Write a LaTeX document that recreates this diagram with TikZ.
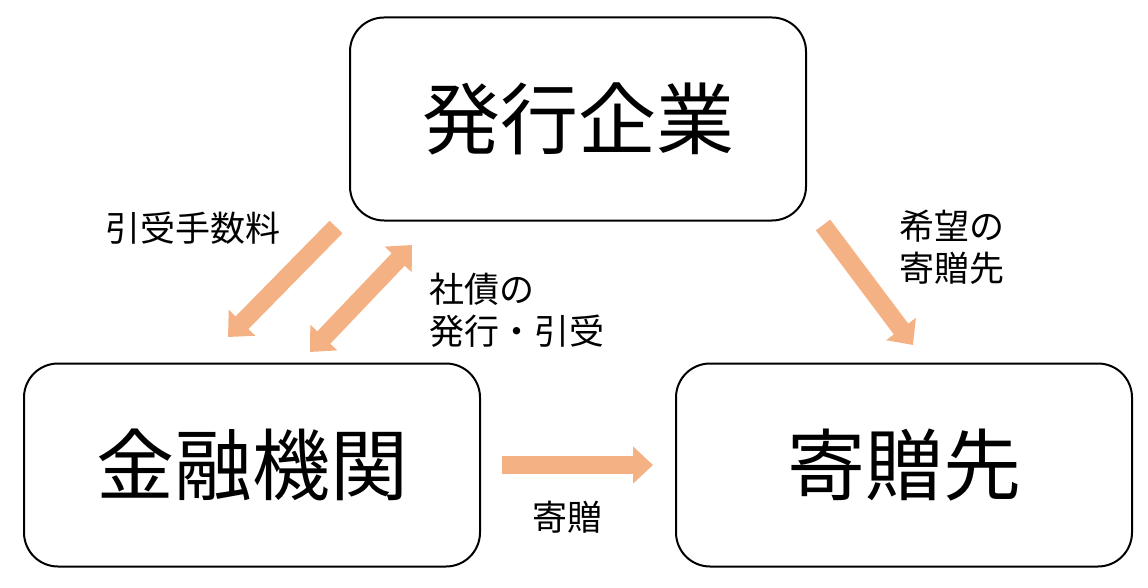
\documentclass[tikz,border=0pt]{standalone}
\usepackage{fontspec}
\setmainfont{Noto Sans CJK JP}
\usetikzlibrary{arrows.meta}
\definecolor{pchfill}{rgb}{0.957,0.694,0.514}

\tikzset{
	party/.style={draw=black,line width=2pt,rounded corners=34pt,minimum width=456pt,minimum height=203pt,inner sep=0pt,font=\fontsize{78}{84}\selectfont},
	flow/.style={draw=pchfill,line width=18pt,line cap=butt,-{Triangle[width=36pt,length=20pt]}},
	flowboth/.style={flow,{Triangle[width=36pt,length=20pt]}-{Triangle[width=36pt,length=20pt]}},
	tag/.style={font=\fontsize{35}{42}\selectfont,align=left,inner sep=0pt}
}

\begin{document}
\begin{tikzpicture}[line join=round,x=1pt,y=-1pt]
		\useasboundingbox (0,0) rectangle (1148,588);
		% boxes
		\node[party] (issuer) at (578,119) {発行企業};
		\node[party] (bank) at (252,465) {金融機関};
		\node[party] (donee) at (904,465) {寄贈先};
		% arrow ends
		\coordinate (feeA) at (336,227);
		\coordinate (feeB) at (228,337);
		\coordinate (bondA) at (310,352);
		\coordinate (bondB) at (412,245);
		\coordinate (wishA) at (823,225);
		\coordinate (wishB) at (913,345);
		\coordinate (giftA) at (502,465);
		\coordinate (giftB) at (653,465);
		\draw [flow] (feeA) -- (feeB);
		\draw [flowboth] (bondA) -- (bondB);
		\draw [flow] (wishA) -- (wishB);
		\draw [flow] (giftA) -- (giftB);
		% labels
		\node[tag] (fee) at (193,228) {引受手数料};
		\node[tag,anchor=west] (bond) at (429,310) {社債の\\発行・引受};
		\node[tag,anchor=west] (wish) at (899,247) {希望の\\寄贈先};
		\node[tag] (gift) at (567,517) {寄贈};
	\end{tikzpicture}
\end{document}
